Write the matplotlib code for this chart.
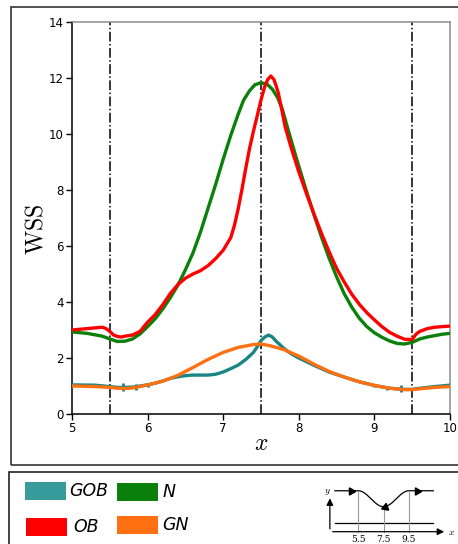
import numpy as np
import matplotlib
matplotlib.use("Agg")
import matplotlib.pyplot as plt
from matplotlib.patches import Rectangle

# ---- wall shear stress along the channel ----
x_N = [5.0, 5.2, 5.4, 5.5, 5.6, 5.7, 5.8, 5.9, 6.0, 6.1, 6.2, 6.3, 6.4, 6.5, 6.6,
       6.7, 6.8, 6.9, 7.0, 7.1, 7.2, 7.27, 7.35, 7.42, 7.5, 7.58, 7.65, 7.72, 7.78,
       7.86, 7.95, 8.0, 8.1, 8.2, 8.3, 8.4, 8.5, 8.6, 8.7, 8.8, 8.9, 9.0, 9.1, 9.2,
       9.3, 9.4, 9.5, 9.6, 9.7, 9.8, 9.9, 10.0]
wss_N = [2.93, 2.88, 2.78, 2.68, 2.59, 2.60, 2.68, 2.86, 3.12, 3.40, 3.75, 4.15, 4.60,
         5.15, 5.75, 6.50, 7.35, 8.20, 9.10, 9.95, 10.72, 11.21, 11.55, 11.76, 11.83,
         11.78, 11.60, 11.30, 10.90, 10.14, 9.30, 8.85, 7.97, 7.12, 6.32, 5.57, 4.90,
         4.30, 3.82, 3.42, 3.12, 2.90, 2.74, 2.61, 2.52, 2.50, 2.56, 2.68, 2.75, 2.80,
         2.85, 2.88]

x_OB = [5.0, 5.2, 5.4, 5.45, 5.5, 5.55, 5.6, 5.65, 5.7, 5.8, 5.9, 6.0, 6.1, 6.2, 6.3,
        6.4, 6.5, 6.6, 6.7, 6.8, 6.9, 7.0, 7.1, 7.15, 7.2, 7.25, 7.3, 7.35, 7.4,
        7.45, 7.5, 7.55, 7.59, 7.63, 7.67, 7.7, 7.73, 7.78, 7.82, 7.9, 8.0, 8.1,
        8.2, 8.3, 8.4, 8.5, 8.6, 8.7, 8.8, 8.9, 9.0, 9.1, 9.2, 9.3, 9.4, 9.5, 9.55,
        9.6, 9.7, 9.8, 10.0]
wss_OB = [3.00, 3.05, 3.10, 3.05, 2.95, 2.82, 2.77, 2.75, 2.78, 2.82, 2.95, 3.28, 3.55,
          3.90, 4.30, 4.62, 4.85, 5.00, 5.12, 5.30, 5.55, 5.85, 6.30, 6.75, 7.35,
          8.05, 8.80, 9.50, 10.10, 10.65, 11.22, 11.70, 11.95, 12.07, 11.95, 11.72,
          11.45, 10.80, 10.25, 9.50, 8.65, 7.88, 7.15, 6.45, 5.80, 5.20, 4.72, 4.28,
          3.92, 3.62, 3.36, 3.12, 2.92, 2.78, 2.67, 2.66, 2.85, 2.95, 3.05, 3.10,
          3.14]

x_GOB = [5.0, 5.3, 5.5, 5.6, 5.7, 5.8, 5.9, 6.0, 6.1, 6.2, 6.3, 6.4, 6.5, 6.6, 6.7,
         6.8, 6.9, 7.0, 7.1, 7.2, 7.3, 7.4, 7.45, 7.5, 7.55, 7.6, 7.65, 7.7, 7.8,
         7.9, 8.0, 8.2, 8.4, 8.6, 8.8, 9.0, 9.2, 9.4, 9.5, 9.6, 9.8, 10.0]
wss_GOB = [1.04, 1.03, 0.98, 0.95, 0.95, 0.96, 1.00, 1.04, 1.10, 1.18, 1.27, 1.33, 1.37,
           1.39, 1.39, 1.39, 1.42, 1.50, 1.62, 1.75, 1.95, 2.20, 2.40, 2.62, 2.75,
           2.82, 2.75, 2.60, 2.35, 2.15, 2.00, 1.74, 1.50, 1.32, 1.15, 1.02, 0.92,
           0.88, 0.88, 0.92, 0.98, 1.03]
# short numerical spikes on the GOB trace: position, low, high
spike_x = [5.67, 5.85, 6.0, 9.0, 9.17, 9.35]
spike_lo = [0.82, 0.86, 0.98, 0.96, 0.86, 0.78]
spike_hi = [1.12, 1.06, 1.09, 1.08, 0.98, 1.02]

x_GN = [5.0, 5.3, 5.5, 5.6, 5.7, 5.8, 5.9, 6.0, 6.2, 6.4, 6.6, 6.8, 7.0, 7.2, 7.4,
        7.5, 7.6, 7.7, 7.8, 8.0, 8.2, 8.4, 8.6, 8.8, 9.0, 9.2, 9.4, 9.5, 9.6, 9.8,
        10.0]
wss_GN = [1.00, 0.98, 0.95, 0.92, 0.91, 0.93, 0.98, 1.04, 1.17, 1.38, 1.66, 1.95, 2.20,
          2.38, 2.48, 2.50, 2.45, 2.38, 2.30, 2.07, 1.78, 1.52, 1.32, 1.15, 1.02,
          0.92, 0.87, 0.87, 0.90, 0.95, 0.98]

stenosis_marks = [5.5, 7.5, 9.5]
x_ticks = [5, 6, 7, 8, 9, 10]
y_ticks = [0, 2, 4, 6, 8, 10, 12, 14]

C_GOB = "#1a8585"
C_GOB_PATCH = "#379b9b"
C_OB = "#ff0000"
C_N = "#0b800b"
C_GN = "#ff7012"

W, H = 458, 544
fig = plt.figure(figsize=(W / 100, H / 100), dpi=100)
plt.rcParams["mathtext.fontset"] = "cm"

def fx(px):
    return px / W

def fy(py):
    return 1 - py / H

# outer frames
fig.add_artist(Rectangle((fx(11), fy(465)), fx(460) - fx(11), fy(7) - fy(465),
                         transform=fig.transFigure, fill=False, ec="#333333", lw=1.2))
fig.add_artist(Rectangle((fx(9), fy(560)), fx(460) - fx(9), fy(472) - fy(560),
                         transform=fig.transFigure, fill=False, ec="#222222", lw=1.2))

ax = fig.add_axes([fx(72), fy(414), fx(450) - fx(72), fy(22) - fy(414)])
for xm in stenosis_marks:
    ax.axvline(xm, color="black", ls="-.", lw=1.1, zorder=1)

style = dict(lw=2.4, solid_joinstyle="round", solid_capstyle="butt")
ax.plot(x_N, wss_N, color=C_N, zorder=3, **style)
ax.plot(x_OB, wss_OB, color=C_OB, zorder=4, **style)
ax.plot(x_GOB, wss_GOB, color=C_GOB, zorder=3, **style)
ax.vlines(spike_x, spike_lo, spike_hi, color=C_GOB, lw=2.0, zorder=3)
ax.plot(x_GN, wss_GN, color=C_GN, zorder=4, **style)

ax.set_xlim(5, 10)
ax.set_ylim(0, 14)
ax.set_xticks(x_ticks)
ax.set_yticks(y_ticks)
ax.tick_params(axis="both", direction="out", length=4, width=1, labelsize=8.5,
               top=False, right=False, pad=2)
for s in ["left", "bottom"]:
    ax.spines[s].set_color("black")
    ax.spines[s].set_linewidth(1.1)
for s in ["top", "right"]:
    ax.spines[s].set_color("#8c8c8c")
    ax.spines[s].set_linewidth(1.1)
ax.set_xlabel(r"$x$", fontsize=17, labelpad=-3)
ax.set_ylabel(r"$\mathrm{WSS}$", fontsize=17)
ax.yaxis.set_label_coords(-0.066, 0.47)

# legend
leg_items = [
    (25, 482, C_GOB_PATCH, 69, "GOB"),
    (117, 483, C_N, 163, "N"),
    (26, 518, C_OB, 73, "OB"),
    (117, 516, C_GN, 162, "GN"),
]
for px, py, col, tx, lab in leg_items:
    fig.add_artist(Rectangle((fx(px), fy(py + 18)), fx(41), 18 / H,
                             transform=fig.transFigure, color=col, ec="none"))
    fig.text(fx(tx), fy(py + 9), lab, fontsize=12.5, style="italic",
             va="center", ha="left")

# schematic of the constricted channel
sx = fig.add_axes([fx(320), fy(544), fx(458) - fx(320), fy(482) - fy(544)])
sx.set_xlim(2.48, 13.37)
sx.set_ylim(-0.97, 3.92)
sx.axis("off")

def wall_height(x):
    x = np.asarray(x, dtype=float)
    dip = 0.63 * (1 - np.cos(2 * np.pi * (x - 5.5) / 4.0))
    return np.where((x > 5.5) & (x < 9.5), 3.23 - dip, 3.23)

xw = np.linspace(3.66, 11.42, 300)
sx.plot(xw, wall_height(xw), color="black", lw=0.9)
sx.plot([3.66, 11.42], [0.71, 0.71], color="black", lw=0.9)
for xm in stenosis_marks:
    sx.plot([xm, xm], [0.0, float(wall_height(xm))], color="#999999", lw=0.8)
    sx.text(xm, -0.6, f"{xm}", fontsize=6.5, family="DejaVu Serif",
            ha="center", va="center")
sx.plot([4.9], [3.23], marker=(3, 0, -90), color="black", ms=6)
sx.plot([7.6], [1.98], marker=(3, 0, -130), color="black", ms=6)
sx.plot([10.1], [3.23], marker=(3, 0, -90), color="black", ms=6)
sx.annotate("", xy=(3.26, 2.85), xytext=(3.26, 0.0),
            arrowprops=dict(arrowstyle="-|>", color="black", lw=0.9))
sx.annotate("", xy=(12.5, 0.0), xytext=(3.26, 0.0),
            arrowprops=dict(arrowstyle="-|>", color="black", lw=0.9))
sx.text(3.05, 3.1, r"$y$", fontsize=7, ha="center", va="center")
sx.text(12.9, 0.0, r"$x$", fontsize=7, ha="center", va="center")

fig.savefig("out.png", dpi=100)
